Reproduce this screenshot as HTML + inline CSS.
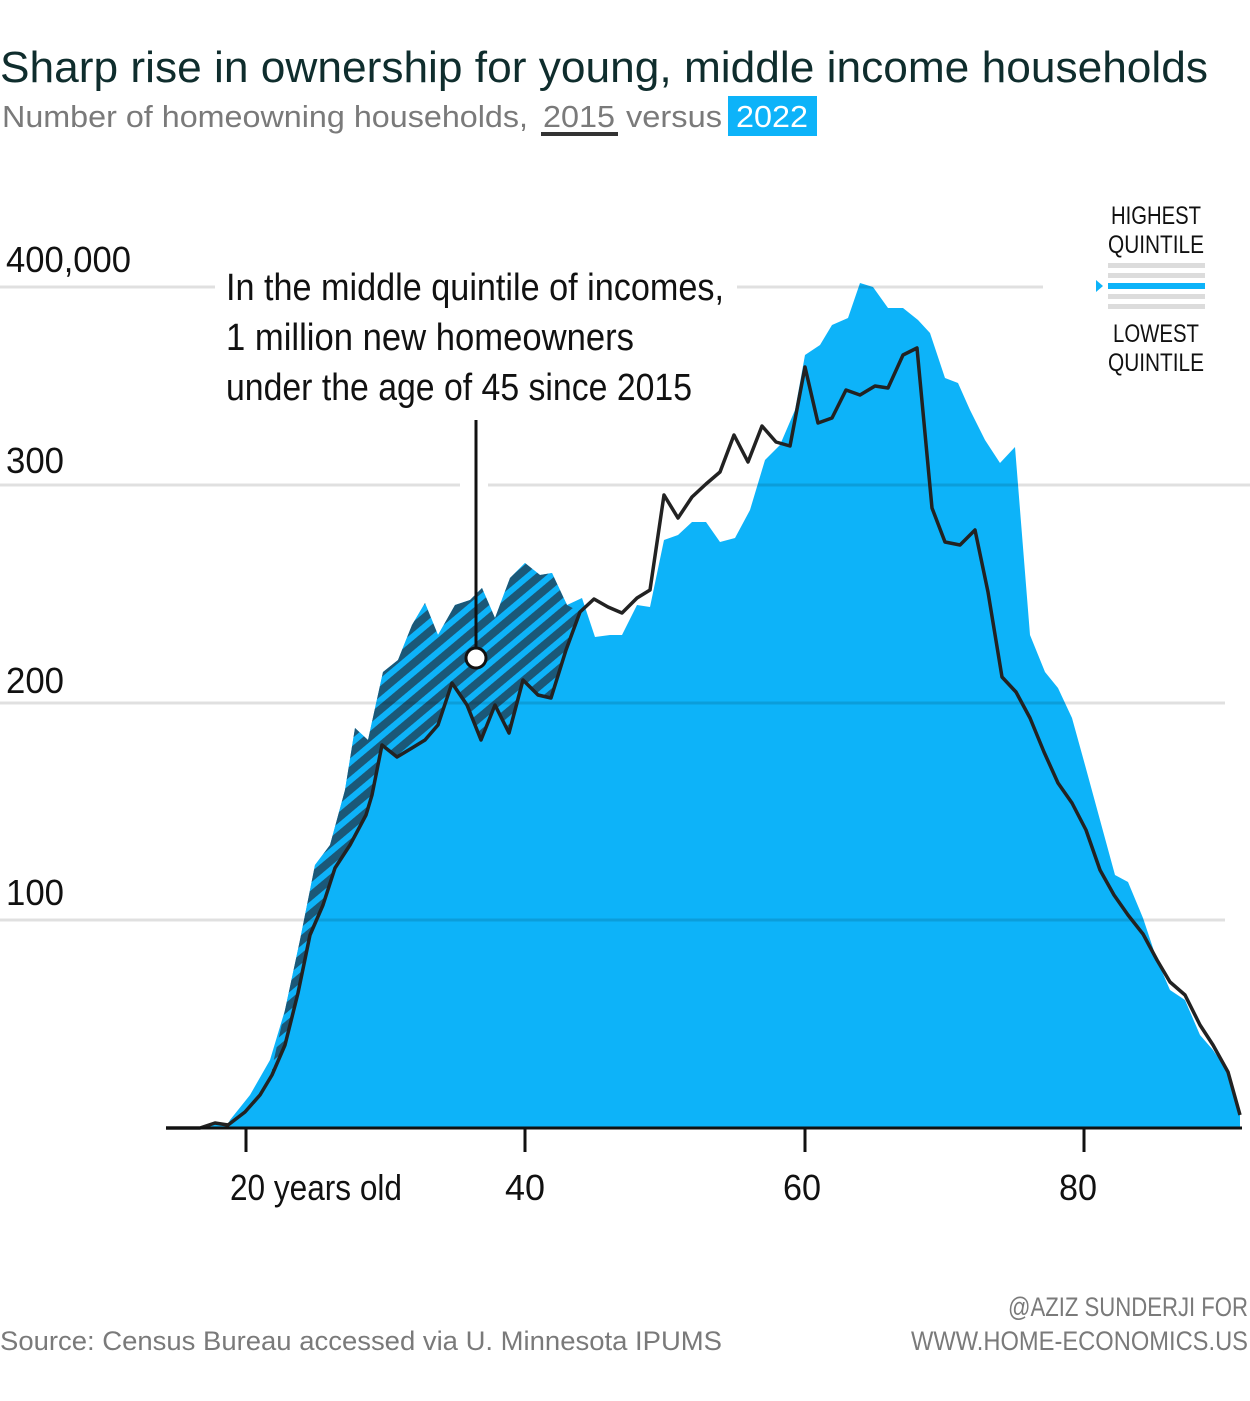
<!DOCTYPE html>
<html><head><meta charset="utf-8"><style>
html,body{margin:0;padding:0;background:#fff;}
svg{display:block;}
text{font-family:"Liberation Sans",sans-serif;}
</style></head><body>
<svg width="1250" height="1401" viewBox="0 0 1250 1401" xmlns="http://www.w3.org/2000/svg">
<defs>
<pattern id="hatch" width="14" height="14" patternUnits="userSpaceOnUse" patternTransform="rotate(50)">
<rect width="14" height="14" fill="#0db3f9"/>
<rect width="8" height="14" fill="#1b5878"/>
</pattern>
</defs>
<text x="0" y="82" font-size="44" fill="#0f2d2d" textLength="1208" lengthAdjust="spacingAndGlyphs">Sharp rise in ownership for young, middle income households</text>
<text x="2" y="127" font-size="31" fill="#7a7a7a" textLength="526" lengthAdjust="spacingAndGlyphs">Number of homeowning households,</text>
<text x="543" y="127" font-size="31" fill="#7a7a7a" textLength="72" lengthAdjust="spacingAndGlyphs">2015</text>
<rect x="541" y="132" width="77" height="4" fill="#333"/>
<text x="626" y="127" font-size="31" fill="#7a7a7a" textLength="96" lengthAdjust="spacingAndGlyphs">versus</text>
<rect x="728" y="96" width="89" height="40" fill="#0db3f9"/>
<text x="736" y="127" font-size="31" fill="#fff" textLength="72" lengthAdjust="spacingAndGlyphs">2022</text>

<g font-size="36" fill="#111">
<text x="6" y="272" textLength="125" lengthAdjust="spacingAndGlyphs">400,000</text>
<text x="6" y="473" textLength="58" lengthAdjust="spacingAndGlyphs">300</text>
<text x="6" y="693" textLength="58" lengthAdjust="spacingAndGlyphs">200</text>
<text x="6" y="905" textLength="58" lengthAdjust="spacingAndGlyphs">100</text>
</g>

<polygon fill="#0db3f9" points="166,1128 200,1128 215,1124 228,1124 230,1120 250,1095 270,1060 285,1010 300,940 315,865 330,845 345,790 355,728 368,740 383,672 398,660 412,625 425,603 438,635 455,605 470,600 482,588 495,618 510,578 525,563 540,575 552,573 567,605 582,598 595,637 610,635 622,635 637,605 650,607 664,540 678,535 692,522 706,522 720,542 735,538 750,510 765,460 780,445 795,410 805,355 820,345 832,325 848,318 860,283 873,287 888,308 903,308 918,320 930,333 945,378 958,383 970,410 985,440 1000,463 1015,447 1030,635 1045,672 1058,688 1072,718 1085,765 1100,820 1115,875 1128,882 1143,918 1157,960 1170,990 1185,1000 1200,1035 1213,1050 1228,1072 1240,1110 1240,1128"/>
<polygon fill="url(#hatch)" points="272,1068 285,1010 300,940 315,865 330,845 345,790 355,728 368,740 383,672 398,660 412,625 425,603 438,635 455,605 470,600 482,588 495,618 510,578 525,563 540,575 552,573 567,605 580,612 566,650 551,698 538,695 523,680 509,733 495,705 481,740 467,705 452,683 438,725 425,740 412,748 397,757 382,745 372,795 366,815 350,845 335,868 323,905 310,935 298,993 285,1045 272,1075"/>

<g stroke="rgba(0,0,0,0.12)" stroke-width="3">
<line x1="0" y1="287" x2="215" y2="287"/><line x1="737" y1="287" x2="1043" y2="287"/>
<line x1="0" y1="485" x2="460" y2="485"/><line x1="488" y1="485" x2="1250" y2="485"/>
<line x1="0" y1="703" x2="1225" y2="703"/>
<line x1="0" y1="920" x2="1225" y2="920"/>
</g>

<polyline fill="none" stroke="#222" stroke-width="3.5" stroke-linejoin="round" points="166,1128 200,1128 215,1123 228,1125 245,1112 260,1095 272,1075 285,1045 298,993 310,935 323,905 335,868 350,845 366,815 372,795 382,745 397,757 412,748 425,740 438,725 452,683 467,705 481,740 495,705 509,733 523,680 538,695 551,698 566,650 580,612 594,599 608,607 622,613 637,598 650,590 664,495 678,518 692,497 706,484 720,472 734,435 748,462 762,426 776,442 790,446 805,367 818,423 832,418 846,390 860,395 875,386 888,388 903,355 917,348 932,508 945,542 960,545 975,530 988,592 1002,677 1016,692 1030,718 1044,752 1058,783 1072,803 1086,830 1100,870 1114,895 1128,915 1143,934 1157,960 1170,982 1185,995 1200,1025 1213,1045 1228,1072 1240,1115"/>

<line x1="166" y1="1128" x2="1242" y2="1128" stroke="#111" stroke-width="3"/>
<g stroke="#111" stroke-width="3">
<line x1="246" y1="1128" x2="246" y2="1152"/><line x1="525" y1="1128" x2="525" y2="1152"/>
<line x1="805" y1="1128" x2="805" y2="1152"/><line x1="1084" y1="1128" x2="1084" y2="1152"/>
</g>
<g font-size="36" fill="#111">
<text x="230" y="1200" textLength="172" lengthAdjust="spacingAndGlyphs">20 years old</text>
<text x="505" y="1200" textLength="40" lengthAdjust="spacingAndGlyphs">40</text>
<text x="783" y="1200" textLength="38" lengthAdjust="spacingAndGlyphs">60</text>
<text x="1059" y="1200" textLength="38" lengthAdjust="spacingAndGlyphs">80</text>
</g>

<g font-size="38" fill="#111">
<text x="226" y="300" textLength="498" lengthAdjust="spacingAndGlyphs">In the middle quintile of incomes,</text>
<text x="226" y="350" textLength="408" lengthAdjust="spacingAndGlyphs">1 million new homeowners</text>
<text x="226" y="400" textLength="466" lengthAdjust="spacingAndGlyphs">under the age of 45 since 2015</text>
</g>
<line x1="476" y1="420" x2="476" y2="650" stroke="#111" stroke-width="3"/>
<circle cx="476" cy="658" r="10" fill="#fff" stroke="#111" stroke-width="3"/>

<g font-size="25" fill="#111" text-anchor="middle">
<text x="1156" y="224" textLength="90" lengthAdjust="spacingAndGlyphs">HIGHEST</text>
<text x="1156" y="253" textLength="96" lengthAdjust="spacingAndGlyphs">QUINTILE</text>
<text x="1156" y="342" textLength="86" lengthAdjust="spacingAndGlyphs">LOWEST</text>
<text x="1156" y="371" textLength="96" lengthAdjust="spacingAndGlyphs">QUINTILE</text>
</g>
<g fill="#dcdcdc">
<rect x="1108" y="263" width="97" height="5"/>
<rect x="1108" y="273" width="97" height="5"/>
<rect x="1108" y="294" width="97" height="5"/>
<rect x="1108" y="304" width="97" height="5"/>
</g>
<rect x="1108" y="283" width="97" height="6" fill="#0db3f9"/>
<polygon points="1096,280 1103,286 1096,292" fill="#0db3f9"/>

<text x="0" y="1350" font-size="27" fill="#7a7a7a" textLength="722" lengthAdjust="spacingAndGlyphs">Source: Census Bureau accessed via U. Minnesota IPUMS</text>
<g font-size="27" fill="#7a7a7a" text-anchor="end">
<text x="1248" y="1316" textLength="240" lengthAdjust="spacingAndGlyphs">@AZIZ SUNDERJI FOR</text>
<text x="1248" y="1350" textLength="337" lengthAdjust="spacingAndGlyphs">WWW.HOME-ECONOMICS.US</text>
</g>
</svg>
</body></html>
